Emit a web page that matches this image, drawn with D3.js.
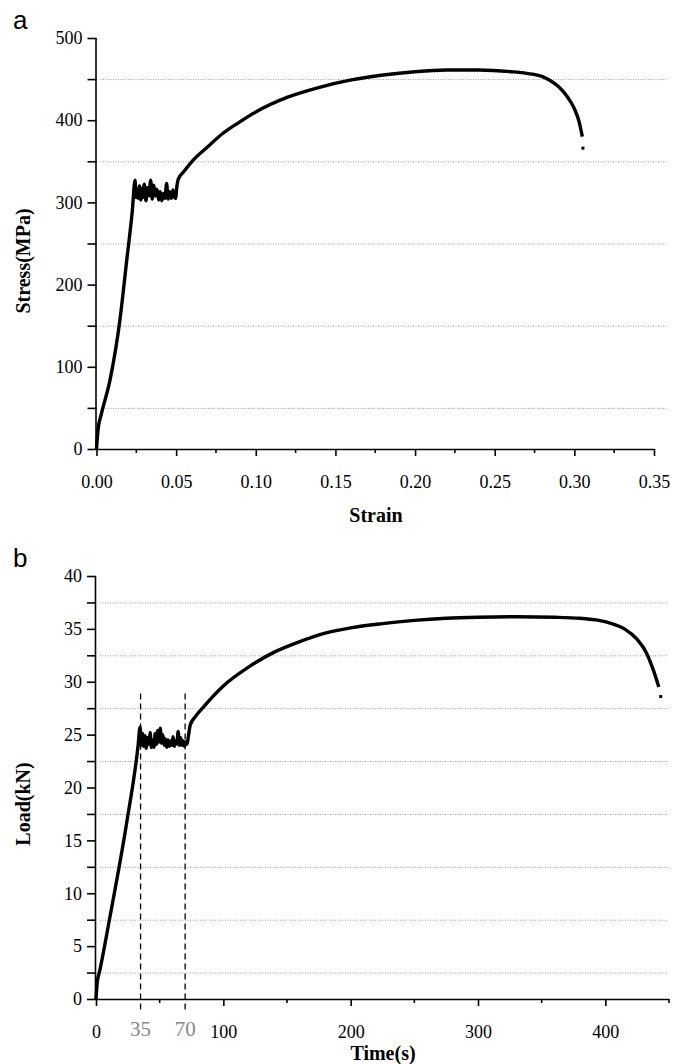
<!DOCTYPE html>
<html>
<head>
<meta charset="utf-8">
<script src="https://cdn.jsdelivr.net/npm/d3@7"></script>
<style>
  body { margin: 0; background: #fff; }
</style>
</head>
<body>
<svg width="684" height="1064"></svg>
<script>
// panel a: engineering stress-strain
var strain = [0, 0.001, 0.003, 0.0085, 0.0147, 0.019, 0.0225, 0.0242,
  0.0248, 0.0255, 0.026, 0.027, 0.0278, 0.0285, 0.029, 0.030, 0.031, 0.032, 0.033,
  0.034, 0.035, 0.036, 0.037, 0.038, 0.039, 0.040, 0.041, 0.042, 0.043, 0.044,
  0.045, 0.046, 0.047, 0.048, 0.049, 0.0496, 0.0505, 0.0513,
  0.055, 0.06, 0.07, 0.08, 0.09, 0.10, 0.12, 0.14, 0.16, 0.18, 0.20, 0.22, 0.24,
  0.26, 0.27, 0.28, 0.285, 0.29, 0.295, 0.30, 0.303, 0.305, 0.3054];
var stress = [0, 24, 42, 84, 157, 230, 290, 327,
  306, 316, 305, 320, 303, 317, 306, 322, 302, 318, 308,
  327, 304, 321, 308, 316, 303, 313, 302, 311, 305, 323,
  304, 313, 305, 315, 306, 305, 320, 328,
  338, 350, 368, 385, 398, 410, 428, 440, 449, 455, 459, 461, 461,
  459, 457, 453, 448, 441, 430, 414, 398, 380, 366];
var strainTicks = [0, 0.05, 0.10, 0.15, 0.20, 0.25, 0.30, 0.35];
var stressTicks = [0, 100, 200, 300, 400, 500];

// panel b: load-time record
var time = [0, 1, 3, 11, 24, 33, 34.6,
  35.5, 36.5, 37.5, 38.5, 39.5, 40.5, 41.5, 42.5, 43.5, 44.5, 45.5, 46.5, 47.5,
  48.5, 49.5, 50.5, 51.5, 52.5, 53.5, 54.5, 55.5, 56.5, 57.5, 58.5, 59.5, 60.5,
  61.5, 62.5, 63.5, 64.5, 65.5, 66.5, 67.5, 68.5, 69.5, 70.5, 71.5,
  72.5, 74, 78, 85, 100, 120, 140, 160, 180, 200, 225, 250, 275, 300, 330, 360,
  380, 395, 405, 415, 425, 432, 438, 442, 443.5];
var load = [0, 1.6, 2.7, 7.8, 16.6, 23.9, 25.7,
  24.0, 25.1, 23.9, 24.9, 23.7, 24.7, 24.1, 25.2, 23.8, 24.5, 23.8, 25.1, 24.1,
  25.4, 24.3, 25.6, 24.2, 25.0, 24.0, 24.6, 23.8, 24.5, 23.9, 24.4, 24.0, 24.8,
  23.9, 24.4, 24.1, 25.3, 24.0, 24.7, 24.0, 24.4, 23.9, 24.3, 24.1,
  24.8, 25.9, 26.7, 27.7, 29.6, 31.4, 32.8, 33.8, 34.6, 35.1, 35.5, 35.8, 36.0, 36.1, 36.15, 36.1,
  36.0, 35.8, 35.5, 35.0, 34.0, 32.8, 31.0, 29.5, 28.6];
var timeTicks = [0, 100, 200, 300, 400];
var markTimes = [35, 70];
var loadTicks = [0, 5, 10, 15, 20, 25, 30, 35, 40];

var svg = d3.select("svg");
var serif = "'Liberation Serif', 'Times New Roman', serif";

function panel(opt) {
  var x = d3.scaleLinear().domain(opt.xDomain).range(opt.xRange),
      y = d3.scaleLinear().domain(opt.yDomain).range(opt.yRange);
  var g = svg.append("g");

  // dotted grid at the half steps
  g.selectAll(".grid")
    .data(opt.grid)
    .enter().append("line")
    .attr("x1", opt.xRange[0] + 4).attr("x2", opt.gridEnd)
    .attr("y1", function (d) { return y(d) + 0.5; })
    .attr("y2", function (d) { return y(d) + 0.5; })
    .attr("stroke", "#9a9a9a")
    .attr("stroke-width", 1)
    .attr("stroke-dasharray", "1,1.5");

  // y axis, ticks on both full and half steps
  var ya = g.append("g")
    .attr("transform", "translate(" + opt.xRange[0] + ",0)")
    .call(d3.axisLeft(y).tickValues(opt.yTicks.concat(opt.grid)).tickSize(9).tickPadding(5)
      .tickFormat(function (d) { return opt.yTicks.indexOf(d) >= 0 ? d : ""; }));
  ya.select(".domain").attr("stroke-width", 1.6).attr("d",
    "M-0.5," + opt.yRange[0] + "V" + opt.yRange[1]);
  ya.selectAll(".tick line").attr("stroke-width", 1.6);
  ya.selectAll("text").style("font-size", "18px").style("font-family", serif);

  // x axis, minor ticks between labels
  var xa = g.append("g")
    .attr("transform", "translate(0," + opt.yRange[0] + ")")
    .call(d3.axisBottom(x).tickValues(opt.xTicks).tickSize(7).tickPadding(19)
      .tickFormat(opt.xFormat));
  xa.select(".domain").attr("stroke-width", 1.6).attr("d",
    "M" + opt.xRange[0] + ",0.5H" + opt.xRange[1]);
  xa.selectAll(".tick line").attr("stroke-width", 1.6);
  xa.selectAll("text").style("font-size", "18px").style("font-family", serif);
  g.selectAll(".minor")
    .data(opt.xMinor)
    .enter().append("line")
    .attr("x1", function (d) { return x(d); })
    .attr("x2", function (d) { return x(d); })
    .attr("y1", opt.yRange[0]).attr("y2", opt.yRange[0] + 4)
    .attr("stroke", "#000").attr("stroke-width", 1.6);

  // the curve
  var pts = opt.xs.map(function (v, i) { return [v, opt.ys[i]]; });
  var line = d3.line()
    .x(function (d) { return x(d[0]); })
    .y(function (d) { return y(d[1]); })
    .curve(d3.curveMonotoneX);
  g.append("path")
    .datum(pts.slice(0, -1))
    .attr("d", line)
    .attr("fill", "none")
    .attr("stroke", "#000")
    .attr("stroke-width", 3.4)
    .attr("stroke-linejoin", "round");
  var last = pts[pts.length - 1];
  g.append("rect")
    .attr("x", x(last[0]) - 1.5).attr("y", y(last[1]) - 1.5)
    .attr("width", 3).attr("height", 3).attr("fill", "#000");

  // axis titles and panel letter
  g.append("text")
    .attr("transform", "translate(" + opt.yTitlePos[0] + "," + opt.yTitlePos[1] + ") rotate(-90)")
    .attr("text-anchor", "middle")
    .style("font-family", serif).style("font-size", "20px").style("font-weight", "bold")
    .text(opt.yTitle);
  g.append("text")
    .attr("x", opt.xTitlePos[0]).attr("y", opt.xTitlePos[1])
    .attr("text-anchor", "middle")
    .style("font-family", serif).style("font-size", "20px").style("font-weight", "bold")
    .text(opt.xTitle);
  g.append("text")
    .attr("x", opt.letterPos[0]).attr("y", opt.letterPos[1])
    .style("font-family", "'Liberation Sans', Arial, sans-serif")
    .style("font-size", "26px")
    .text(opt.letter);

  return { g: g, x: x, y: y };
}

panel({
  xs: strain, ys: stress,
  xDomain: [0, 0.35], xRange: [96.5, 654],
  yDomain: [0, 500], yRange: [449, 38],
  xTicks: strainTicks, xFormat: d3.format(".2f"),
  xMinor: [0.025, 0.075, 0.125, 0.175, 0.225, 0.275, 0.325],
  yTicks: stressTicks, grid: [50, 150, 250, 350, 450], gridEnd: 668,
  yTitle: "Stress(MPa)", yTitlePos: [30, 261],
  xTitle: "Strain", xTitlePos: [376, 522],
  letter: "a", letterPos: [13, 29]
});

var b = panel({
  xs: time, ys: load,
  xDomain: [0, 450], xRange: [96, 669],
  yDomain: [0, 40], yRange: [999, 576],
  xTicks: timeTicks, xFormat: d3.format("d"),
  xMinor: [50, 150, 250, 350, 450],
  yTicks: loadTicks, grid: [2.5, 7.5, 12.5, 17.5, 22.5, 27.5, 32.5, 37.5], gridEnd: 668,
  yTitle: "Load(kN)", yTitlePos: [30, 804],
  xTitle: "Time(s)", xTitlePos: [383, 1060],
  letter: "b", letterPos: [13, 567]
});

// dashed markers at the start and end of the yield plateau
b.g.selectAll(".mark")
  .data(markTimes)
  .enter().append("line")
  .attr("x1", function (d) { return b.x(d); })
  .attr("x2", function (d) { return b.x(d); })
  .attr("y1", b.y(28.9)).attr("y2", b.y(0) + 13)
  .attr("stroke", "#000").attr("stroke-width", 1.3)
  .attr("stroke-dasharray", "6,4");
b.g.selectAll(".marklabel")
  .data(markTimes)
  .enter().append("text")
  .attr("x", function (d) { return b.x(d); })
  .attr("y", 1036)
  .attr("text-anchor", "middle")
  .style("font-family", serif).style("font-size", "21px")
  .attr("fill", "#888")
  .text(function (d) { return d; });
</script>
</body>
</html>
